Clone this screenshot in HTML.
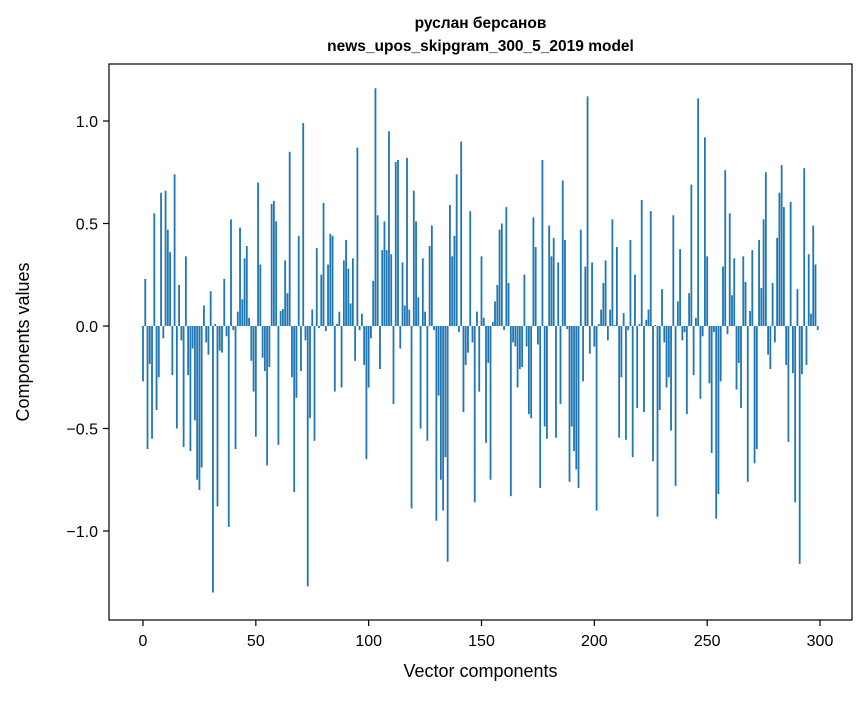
<!DOCTYPE html>
<html><head><meta charset="utf-8"><style>
body{margin:0;background:#fff;}
svg text{font-family:"Liberation Sans","DejaVu Sans",sans-serif;fill:#000;}
</style></head><body>
<svg id="chart" width="867" height="696" viewBox="0 0 867 696" xmlns="http://www.w3.org/2000/svg">
<rect x="0" y="0" width="867" height="696" fill="#fff"/>
<text x="480.5" y="28" font-size="15.5" font-weight="bold" text-anchor="middle">руслан берсанов</text>
<text x="480.5" y="51" font-size="15.5" font-weight="bold" text-anchor="middle">news_upos_skipgram_300_5_2019 model</text>
<g id="bars"></g>
<rect x="109" y="64" width="743" height="556" fill="none" stroke="#000" stroke-width="1.2"/>
<g id="xticks"></g>
<g id="yticks"></g>
<text x="480.5" y="677" font-size="18" text-anchor="middle">Vector components</text>
<text x="0" y="0" font-size="18" text-anchor="middle" transform="translate(29,342) rotate(-90)">Components values</text>
</svg>
<script>
const values = [
-0.27,0.23,-0.60,-0.185,-0.55,0.55,-0.41,-0.25,0.65,-0.06,
0.66,0.47,0.36,-0.24,0.74,-0.50,0.20,-0.07,-0.59,0.34,
-0.24,-0.61,-0.11,-0.46,-0.75,-0.80,-0.69,0.10,-0.08,-0.14,
0.17,-1.30,0.01,-0.88,-0.12,-0.13,0.23,-0.05,-0.98,0.52,
-0.02,-0.60,0.07,0.48,0.13,0.33,0.39,0.04,-0.17,-0.32,
-0.54,0.70,0.30,-0.155,-0.22,-0.68,-0.20,0.595,0.61,0.51,
-0.58,0.073,0.083,0.32,0.16,0.85,-0.25,-0.81,-0.35,0.44,
-0.22,0.99,-0.07,-1.27,-0.45,0.08,-0.56,0.38,-0.01,0.25,
0.60,-0.025,0.30,0.45,0.44,-0.32,0.01,0.07,-0.30,0.32,
0.42,0.28,0.11,0.33,-0.17,0.87,-0.02,0.06,-0.19,-0.65,
-0.30,-0.06,0.22,1.16,0.54,-0.21,0.37,0.51,0.37,0.95,
0.35,-0.38,0.80,0.81,-0.11,0.31,0.10,0.82,0.08,-0.89,
0.66,0.51,0.14,-0.50,0.33,0.07,-0.56,0.39,0.49,-0.02,
-0.95,-0.34,-0.75,-0.90,-0.64,-1.15,0.59,0.34,0.44,0.74,
-0.03,0.90,-0.42,-0.19,-0.13,0.56,-0.08,-0.86,0.07,-0.32,
0.34,0.04,-0.57,-0.18,-0.75,0.02,0.12,0.20,0.47,0.50,
-0.02,0.58,0.21,-0.83,-0.08,-0.10,-0.30,-0.21,-0.20,0.25,
-0.10,-0.43,-0.45,0.53,0.385,-0.09,-0.79,0.81,-0.49,-0.55,
0.49,0.34,0.43,-0.545,0.31,-0.38,0.71,0.42,-0.015,-0.76,
-0.49,-0.61,-0.70,-0.79,0.47,-0.27,0.29,1.12,-0.135,0.31,
-0.10,-0.90,0.01,0.08,0.21,0.32,-0.07,0.08,0.52,0.005,
0.385,-0.545,-0.25,0.063,-0.555,-0.02,0.42,-0.64,0.25,-0.40,
0.01,0.615,-0.42,0.03,0.08,0.56,-0.66,0.005,-0.93,-0.41,
0.18,-0.08,-0.30,-0.25,-0.51,0.54,-0.78,0.12,0.375,-0.07,
-0.03,-0.43,0.16,0.69,-0.24,0.04,1.11,-0.355,-0.05,0.92,
0.34,-0.28,-0.62,-0.03,-0.94,-0.82,-0.27,0.29,0.76,-0.04,
0.55,0.15,0.33,-0.31,-0.18,-0.40,0.34,0.215,-0.76,0.073,
0.37,-0.67,-0.60,0.42,0.185,0.52,0.75,-0.14,-0.21,0.21,
-0.08,0.43,0.65,0.785,0.58,-0.19,-0.565,0.605,-0.23,-0.86,
0.18,-1.16,-0.235,0.77,-0.19,0.35,0.06,0.49,0.30,-0.02
];
const xTickValues = [0,50,100,150,200,250,300];
const xTickLabels = ["0","50","100","150","200","250","300"];
const yTickValues = [-1.0,-0.5,0.0,0.5,1.0];
const yTickLabels = ["\u22121.0","\u22120.5","0.0","0.5","1.0"];

const NS = "http://www.w3.org/2000/svg";
function xScale(v){ return 143 + v * (677/300); }
function yScale(v){ return 326 - v * 205; }
const barW = 0.8 * (677/300);

const gb = document.getElementById('bars');
values.forEach((v,i)=>{
  const r = document.createElementNS(NS,'rect');
  const y0 = yScale(0), y1 = yScale(v);
  r.setAttribute('x', xScale(i) - barW/2);
  r.setAttribute('y', Math.min(y0,y1));
  r.setAttribute('width', barW);
  r.setAttribute('height', Math.max(Math.abs(y1-y0),0.01));
  r.setAttribute('fill', '#1f77b4');
  
  
  gb.appendChild(r);
});

const gx = document.getElementById('xticks');
xTickValues.forEach((v,i)=>{
  const x = xScale(v);
  const l = document.createElementNS(NS,'line');
  l.setAttribute('x1',x); l.setAttribute('x2',x);
  l.setAttribute('y1',620); l.setAttribute('y2',626);
  l.setAttribute('stroke','#000'); l.setAttribute('stroke-width','1.2');
  
  
  gx.appendChild(l);
  const t = document.createElementNS(NS,'text');
  t.setAttribute('x',x); t.setAttribute('y',646);
  t.setAttribute('font-size','16'); t.setAttribute('text-anchor','middle');
  t.textContent = xTickLabels[i];
  
  
  gx.appendChild(t);
});

const gy = document.getElementById('yticks');
yTickValues.forEach((v,i)=>{
  const y = yScale(v);
  const l = document.createElementNS(NS,'line');
  l.setAttribute('x1',103); l.setAttribute('x2',109);
  l.setAttribute('y1',y); l.setAttribute('y2',y);
  l.setAttribute('stroke','#000'); l.setAttribute('stroke-width','1.2');
  
  
  gy.appendChild(l);
  const t = document.createElementNS(NS,'text');
  t.setAttribute('x',98); t.setAttribute('y',y+6);
  t.setAttribute('font-size','16'); t.setAttribute('text-anchor','end');
  t.textContent = yTickLabels[i];
  
  
  gy.appendChild(t);
});
</script>
</body></html>
